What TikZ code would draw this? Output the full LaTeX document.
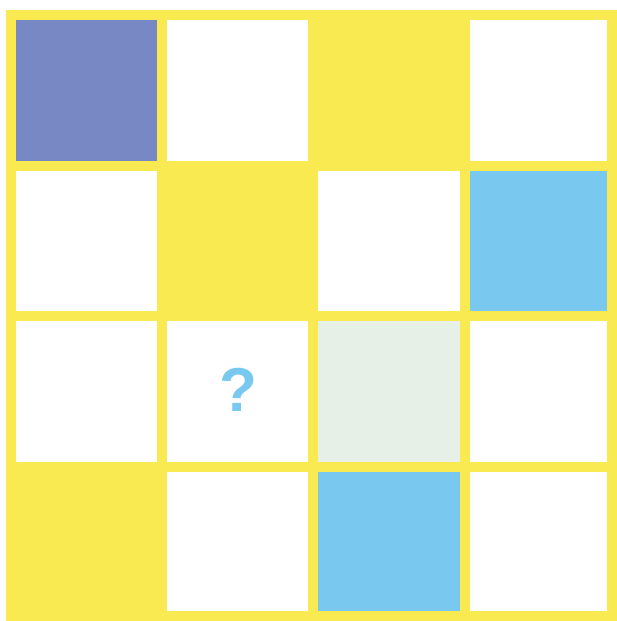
\documentclass[tikz,border=0pt]{standalone}
\usepackage{fontspec}
\setsansfont{Liberation Sans}
\definecolor{gridyellow}{HTML}{FAEA52}
\definecolor{cellpurple}{HTML}{7788C4}
\definecolor{cellblue}{HTML}{78C8F0}
\definecolor{cellgreen}{HTML}{E6F0E6}
\begin{document}
\begin{tikzpicture}[x=1pt,y=-1pt,
  gridline/.style={draw=gridyellow,line width=10pt,line cap=rect},
  qmark/.style={text=cellblue,font=\sffamily\bfseries\fontsize{62}{62}\selectfont,inner sep=0pt}]
\useasboundingbox (0,0) rectangle (616,621);
\fill[white] (0,0) rectangle (616,621);
% column and row line positions
\def\xa{11}\def\xb{161.5}\def\xc{313}\def\xd{465}\def\xe{612}
\def\ya{15}\def\yb{166}\def\yc{316}\def\yd{467}\def\ye{616}
% cell fills
\fill[cellpurple] (\xa,\ya) rectangle (\xb,\yb);
\fill[gridyellow] (\xc,\ya) rectangle (\xd,\yb);
\fill[gridyellow] (\xb,\yb) rectangle (\xc,\yc);
\fill[cellblue] (\xd,\yb) rectangle (\xe,\yc);
\fill[cellgreen] (\xc,\yc) rectangle (\xd,\yd);
\fill[gridyellow] (\xa,\yd) rectangle (\xb,\ye);
\fill[cellblue] (\xc,\yd) rectangle (\xd,\ye);
% grid lines
\foreach \x in {\xa,\xb,\xc,\xd,\xe}
  \draw[gridline] (\x,\ya) -- (\x,\ye);
\foreach \y in {\ya,\yb,\yc,\yd,\ye}
  \draw[gridline] (\xa,\y) -- (\xe,\y);
\node[qmark] (q) at (238,390) {?};
\end{tikzpicture}
\end{document}
